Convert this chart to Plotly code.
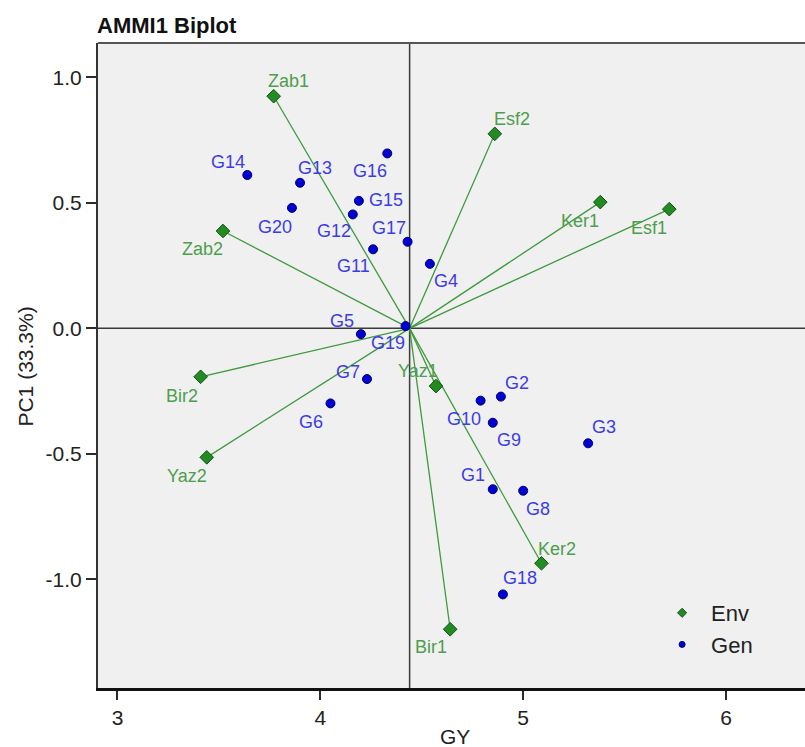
import plotly.graph_objects as go

# ---- data -------------------------------------------------------------
grand_mean = 4.44

env_names = ["Zab1", "Esf2", "Ker1", "Esf1", "Zab2", "Bir2", "Yaz2", "Yaz1", "Ker2", "Bir1"]
env_gy = [3.77, 4.86, 5.38, 5.72, 3.52, 3.41, 3.44, 4.57, 5.09, 4.64]
env_pc1 = [0.925, 0.775, 0.503, 0.475, 0.388, -0.193, -0.514, -0.230, -0.936, -1.199]

gen_names = ["G1", "G2", "G3", "G4", "G5", "G6", "G7", "G8", "G9", "G10",
             "G11", "G12", "G13", "G14", "G15", "G16", "G17", "G18", "G19", "G20"]
gen_gy = [4.85, 4.89, 5.32, 4.54, 4.20, 4.05, 4.23, 5.00, 4.85, 4.79,
          4.26, 4.16, 3.90, 3.64, 4.19, 4.33, 4.43, 4.90, 4.42, 3.86]
gen_pc1 = [-0.641, -0.272, -0.458, 0.257, -0.023, -0.299, -0.202, -0.647, -0.376, -0.288,
           0.315, 0.454, 0.580, 0.611, 0.508, 0.697, 0.345, -1.060, 0.009, 0.480]

x_ticks = [3, 4, 5, 6]
y_ticks = [-1.0, -0.5, 0.0, 0.5, 1.0]

# ---- styling ----------------------------------------------------------
FONT = "Liberation Sans, Arial, sans-serif"
ENV_FILL = "#228b22"
ENV_EDGE = "#14501a"
ENV_LINE = "#3f9a3f"
ENV_TEXT = "#4d9e4d"
GEN_FILL = "#0000d4"
GEN_EDGE = "#000070"
GEN_TEXT = "#3c3ce6"
AXIS_DARK = "#2b2b2b"

# label offsets in pixels (right, down) from each marker
env_offsets = {
    "Zab1": (15, -15), "Esf2": (17, -15), "Ker1": (-20, 19), "Esf1": (-20, 19),
    "Zab2": (-20, 18), "Bir2": (-19, 19), "Yaz2": (-20, 19), "Yaz1": (-18, -15),
    "Ker2": (16, -14), "Bir1": (-19, 18),
}
gen_offsets = {
    "G1": (-20, -14), "G2": (16, -14), "G3": (16, -16), "G4": (16, 17),
    "G5": (-19, -13), "G6": (-19, 19), "G7": (-19, -7), "G8": (15, 18),
    "G9": (16, 17), "G10": (-17, 18), "G11": (-20, 17), "G12": (-19, 17),
    "G13": (15, -15), "G14": (-19, -13), "G15": (27, -1), "G16": (-17, 18),
    "G17": (-19, -14), "G18": (17, -16), "G19": (-18, 17), "G20": (-17, 19),
}

W, H = 805, 747
L, R, T, B = 97.5, 0, 43, 59
x_range = [2.904, 6.389]
y_range = [-1.433, 1.137]

fig = go.Figure()

# environment vectors from the grand mean
vx, vy = [], []
for gx, py in zip(env_gy, env_pc1):
    vx += [grand_mean, gx, None]
    vy += [0, py, None]
fig.add_trace(go.Scatter(x=vx, y=vy, mode="lines", hoverinfo="skip",
                         line=dict(color=ENV_LINE, width=1.3), showlegend=False))

# environments
fig.add_trace(go.Scatter(
    x=env_gy, y=env_pc1, mode="markers", text=env_names, showlegend=False,
    marker=dict(symbol="diamond", size=10.5, color=ENV_FILL,
                line=dict(color=ENV_EDGE, width=1))))

# genotypes
fig.add_trace(go.Scatter(
    x=gen_gy, y=gen_pc1, mode="markers", text=gen_names, showlegend=False,
    marker=dict(symbol="circle", size=9, color=GEN_FILL,
                line=dict(color=GEN_EDGE, width=1))))

# legend entries with small symbols
fig.add_trace(go.Scatter(x=[None], y=[None], mode="markers", name="Env",
                         marker=dict(symbol="diamond", size=7, color=ENV_FILL,
                                     line=dict(color=ENV_EDGE, width=1))))
fig.add_trace(go.Scatter(x=[None], y=[None], mode="markers", name="Gen",
                         marker=dict(symbol="circle", size=6, color=GEN_FILL,
                                     line=dict(color=GEN_EDGE, width=1))))

annotations = []
for n, gx, py in zip(env_names, env_gy, env_pc1):
    dx, dy = env_offsets[n]
    annotations.append(dict(x=gx, y=py, text=n, showarrow=False, xshift=dx, yshift=-dy,
                            xanchor="center", yanchor="middle",
                            font=dict(family=FONT, size=18, color=ENV_TEXT)))
for n, gx, py in zip(gen_names, gen_gy, gen_pc1):
    dx, dy = gen_offsets[n]
    annotations.append(dict(x=gx, y=py, text=n, showarrow=False, xshift=dx, yshift=-dy,
                            xanchor="center", yanchor="middle",
                            font=dict(family=FONT, size=18, color=GEN_TEXT)))

pw = W - L - R
ph = H - T - B


def px_x(p):
    return (p - L) / pw


def px_y(p):
    return (H - B - p) / ph


annotations += [
    dict(xref="paper", yref="paper", x=px_x(94), y=px_y(25), text="<b>AMMI1 Biplot</b>",
         showarrow=False, xanchor="left", yanchor="middle",
         font=dict(family=FONT, size=22, color="#111111")),
    dict(xref="paper", yref="paper", x=px_x(455), y=px_y(736), text="GY",
         showarrow=False, xanchor="center", yanchor="middle",
         font=dict(family=FONT, size=21, color="#222222")),
    dict(xref="paper", yref="paper", x=px_x(24), y=px_y(367), text="PC1 (33.3%)",
         showarrow=False, xanchor="center", yanchor="middle", textangle=-90,
         font=dict(family=FONT, size=21, color="#222222")),
]

shapes = [
    dict(type="line", xref="x", yref="paper", x0=grand_mean, x1=grand_mean, y0=0, y1=1,
         line=dict(color="#3a3a3a", width=1.5), layer="below"),
    dict(type="line", xref="paper", yref="y", x0=0, x1=1, y0=0, y1=0,
         line=dict(color="#3a3a3a", width=1.5), layer="below"),
    dict(type="line", xref="paper", yref="paper", x0=0, x1=1, y0=1, y1=1,
         line=dict(color="#555555", width=2)),
]

fig.update_layout(
    width=W, height=H,
    margin=dict(l=L, r=R, t=T, b=B, pad=0),
    paper_bgcolor="white", plot_bgcolor="#f0f0f0",
    font=dict(family=FONT, color="#222222"),
    annotations=annotations, shapes=shapes,
    legend=dict(x=px_x(653), y=px_y(592), xanchor="left", yanchor="top",
                bgcolor="rgba(0,0,0,0)", itemwidth=48,
                font=dict(family=FONT, size=22, color="#222222")),
    xaxis=dict(range=x_range, tickvals=x_ticks, ticktext=[str(v) for v in x_ticks],
               showgrid=False, zeroline=False, showline=True, linecolor="#111111",
               linewidth=3, ticks="outside", ticklen=9, tickwidth=1.5, tickcolor=AXIS_DARK,
               tickfont=dict(family=FONT, size=21, color="#222222")),
    yaxis=dict(range=y_range, tickvals=y_ticks, ticktext=[f"{v:.1f}" for v in y_ticks],
               showgrid=False, zeroline=False, showline=True, linecolor="#333333",
               linewidth=2, ticks="outside", ticklen=10, tickwidth=1.5, tickcolor=AXIS_DARK,
               tickfont=dict(family=FONT, size=21, color="#222222")),
)

fig.write_html("out.html")
